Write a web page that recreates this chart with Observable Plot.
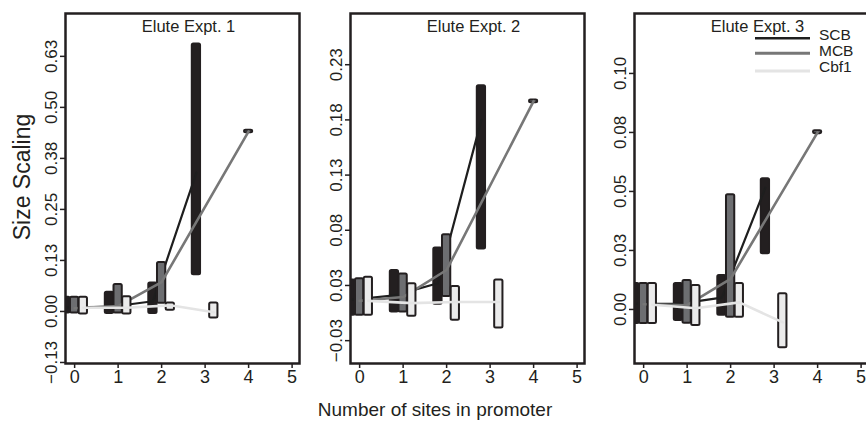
<!DOCTYPE html>
<html><head><meta charset="utf-8">
<script src="https://cdn.jsdelivr.net/npm/d3@7"></script>
<script src="https://cdn.jsdelivr.net/npm/@observablehq/plot@0.6"></script>
<style>
html,body{margin:0;padding:0;background:#fff;overflow:hidden;}
#wrap{position:relative;width:866px;height:432px;overflow:hidden;font-family:"Liberation Sans",Arial,Helvetica,sans-serif;color:#231f20;}
.panel{position:absolute;top:0;width:306px;height:400px;}
.panel svg{max-width:none !important;}
#ylab{position:absolute;left:22px;top:177px;transform:translate(-50%,-50%) rotate(-90deg);font-size:23px;white-space:nowrap;}
#xlab{position:absolute;left:435px;top:410px;transform:translate(-50%,-50%);font-size:19px;white-space:nowrap;}
#legend{position:absolute;left:750px;top:20px;}
</style></head><body>
<div id="wrap">
  <div id="p1" class="panel" style="left:5px"></div>
  <div id="p2" class="panel" style="left:290px"></div>
  <div id="p3" class="panel" style="left:574px"></div>
  <div id="ylab">Size Scaling</div>
  <div id="xlab">Number of sites in promoter</div>
  <svg id="legend" width="116" height="60"></svg>
</div>
<script>
// ---------- data ----------
const sites = [0, 1, 2, 3, 4];
const seriesNames = ["SCB", "MCB", "Cbf1"];
const xTicks = [0, 1, 2, 3, 4, 5];
const xTickLabels = ["0", "1", "2", "3", "4", "5"];
const panelTitles = ["Elute Expt. 1", "Elute Expt. 2", "Elute Expt. 3"];

// Elute Expt. 1
const scbLo1  = [-0.004, -0.005, -0.005, 0.090, null];
const scbHi1  = [ 0.035,  0.047,  0.070, 0.655, null];
const scbMid1 = [ 0.010,  0.011,  0.025, 0.340, null];
const mcbLo1  = [-0.004, -0.004,  0.020, null, 0.438];
const mcbHi1  = [ 0.035,  0.066,  0.120, null, 0.444];
const mcbMid1 = [ 0.008,  0.013,  0.072, null, 0.441];
const cbfLo1  = [-0.006, -0.006,  0.003, -0.016, null];
const cbfHi1  = [ 0.035,  0.036,  0.021,  0.021, null];
const cbfMid1 = [ 0.009,  0.009,  0.015, -0.002, null];
const yTicks1 = [-0.125, 0, 0.125, 0.25, 0.375, 0.5, 0.625];
const yTickLabels1 = ["\u22120.13", "0.00", "0.13", "0.25", "0.38", "0.50", "0.63"];

// Elute Expt. 2
const scbLo2  = [-0.002, 0.001, 0.008, 0.058, null];
const scbHi2  = [ 0.030, 0.0385, 0.059, 0.206, null];
const scbMid2 = [ 0.012, 0.016, 0.027, 0.175, null];
const mcbLo2  = [-0.002, 0.001, 0.015, null, 0.1905];
const mcbHi2  = [ 0.031, 0.0355, 0.071, null, 0.193];
const mcbMid2 = [ 0.011, 0.0145, 0.039, null, 0.192];
const cbfLo2  = [-0.002, -0.003, -0.0065, -0.0135, null];
const cbfHi2  = [ 0.0325, 0.0265, 0.024, 0.030, null];
const cbfMid2 = [ 0.011, 0.009, 0.010, 0.010, null];
const yTicks2 = [-0.025, 0.025, 0.075, 0.125, 0.175, 0.225];
const yTickLabels2 = ["\u22120.03", "0.03", "0.08", "0.13", "0.18", "0.23"];

// Elute Expt. 3
const scbLo3  = [-0.006, -0.0047, -0.0025, 0.0236, null];
const scbHi3  = [ 0.011,  0.011,   0.0144, 0.0554, null];
const scbMid3 = [ 0.0024, 0.0024,  0.005,  0.0516, null];
const mcbLo3  = [-0.006, -0.0058, -0.0033, null, 0.0745];
const mcbHi3  = [ 0.011,  0.0123,  0.0486, null, 0.0757];
const mcbMid3 = [ 0.0022, 0.0018,  0.013,  null, 0.075];
const cbfLo3  = [-0.006, -0.0068, -0.0033, -0.0162, null];
const cbfHi3  = [ 0.011,  0.0102,  0.011,   0.0067, null];
const cbfMid3 = [ 0.002,  0.0005,  0.003,  -0.0055, null];
const yTicks3 = [0, 0.025, 0.05, 0.075, 0.1];
const yTickLabels3 = ["0.00", "0.03", "0.05", "0.08", "0.10"];

// ---------- styling ----------
const ink = "#231f20";
const boxFill = {SCB: "#231f20", MCB: "#6d6e71", Cbf1: "#ebebeb"};
const lineColor = {SCB: "#1e1e1e", MCB: "#777777", Cbf1: "#e4e4e4"};
const lineWidth = {SCB: 2.2, MCB: 2.6, Cbf1: 2.6};
const offset = {SCB: -0.2, MCB: 0, Cbf1: 0.2};
const halfW = 0.095;
const fontFam = '"Liberation Sans", Arial, Helvetica, sans-serif';

const panels = [
  {el: "#p1", title: panelTitles[0], ticks: yTicks1, labels: yTickLabels1, domain: [-0.1275, 0.730],
   s: {SCB: [scbLo1, scbHi1, scbMid1], MCB: [mcbLo1, mcbHi1, mcbMid1], Cbf1: [cbfLo1, cbfHi1, cbfMid1]}},
  {el: "#p2", title: panelTitles[1], ticks: yTicks2, labels: yTickLabels2, domain: [-0.0457, 0.2714],
   s: {SCB: [scbLo2, scbHi2, scbMid2], MCB: [mcbLo2, mcbHi2, mcbMid2], Cbf1: [cbfLo2, cbfHi2, cbfMid2]}},
  {el: "#p3", title: panelTitles[2], ticks: yTicks3, labels: yTickLabels3, domain: [-0.0229, 0.1254],
   s: {SCB: [scbLo3, scbHi3, scbMid3], MCB: [mcbLo3, mcbHi3, mcbMid3], Cbf1: [cbfLo3, cbfHi3, cbfMid3]}}
];

const ML = 60, MR = 12, MT = 13, MB = 37, FW = 234, FH = 350;

panels.forEach(p => {
  const marks = [];
  seriesNames.forEach(name => {
    const [lo, hi, mid] = p.s[name];
    const rows = [];
    sites.forEach((x, i) => {
      if (lo[i] == null) return;
      rows.push({series: name, site: x, xc: x + offset[name], lo: lo[i], hi: hi[i], mid: mid[i]});
    });
    marks.push(Plot.rect(rows, {
      x1: d => d.xc - halfW, x2: d => d.xc + halfW, y1: "lo", y2: "hi",
      fill: boxFill[name], stroke: ink, strokeWidth: 2, rx: 1.5, clip: true
    }));
    marks.push(Plot.line(rows, {
      x: "xc", y: "mid", stroke: lineColor[name], strokeWidth: lineWidth[name], clip: true
    }));
  });
  const fmtY = d => p.labels[p.ticks.indexOf(d)];
  const plot = Plot.plot({
    width: ML + FW + MR, height: MT + FH + MB,
    marginLeft: ML, marginRight: MR, marginTop: MT, marginBottom: MB,
    x: {domain: [-0.21, 5.17]},
    y: {domain: p.domain},
    style: {background: "transparent", overflow: "visible", color: ink, maxWidth: "none",
            fontFamily: fontFam},
    marks: [
      ...marks,
      Plot.frame({stroke: ink, strokeWidth: 2.5}),
      Plot.axisX({ticks: xTicks, tickFormat: d => xTickLabels[xTicks.indexOf(d)],
                  tickSize: 5, tickPadding: 2, fontSize: 18, strokeWidth: 1.5, label: null}),
      Plot.axisY({ticks: p.ticks, tickFormat: fmtY, tickRotate: -90,
                  tickSize: 5, fontSize: 17, strokeWidth: 1.5, label: null}),
      Plot.text([p.title], {text: d => d, frameAnchor: "top", lineAnchor: "top",
                  dx: 6, dy: 7, fontSize: 16.5, fill: ink})
    ]
  });
  document.querySelector(p.el).appendChild(plot);
});

// ---------- legend ----------
const leg = d3.select("#legend");
const legLineY = [18.3, 33.3, 51];
const legTextY = [20, 35.5, 51.5];
seriesNames.forEach((name, i) => {
  leg.append("line").attr("x1", 5).attr("x2", 60).attr("y1", legLineY[i]).attr("y2", legLineY[i])
    .attr("stroke", lineColor[name]).attr("stroke-width", name === "SCB" ? 2.6 : 3);
  leg.append("text").attr("x", 69).attr("y", legTextY[i]).text(name)
    .attr("font-size", 15.5).attr("fill", ink).attr("font-family", fontFam);
});
</script>
</body></html>
